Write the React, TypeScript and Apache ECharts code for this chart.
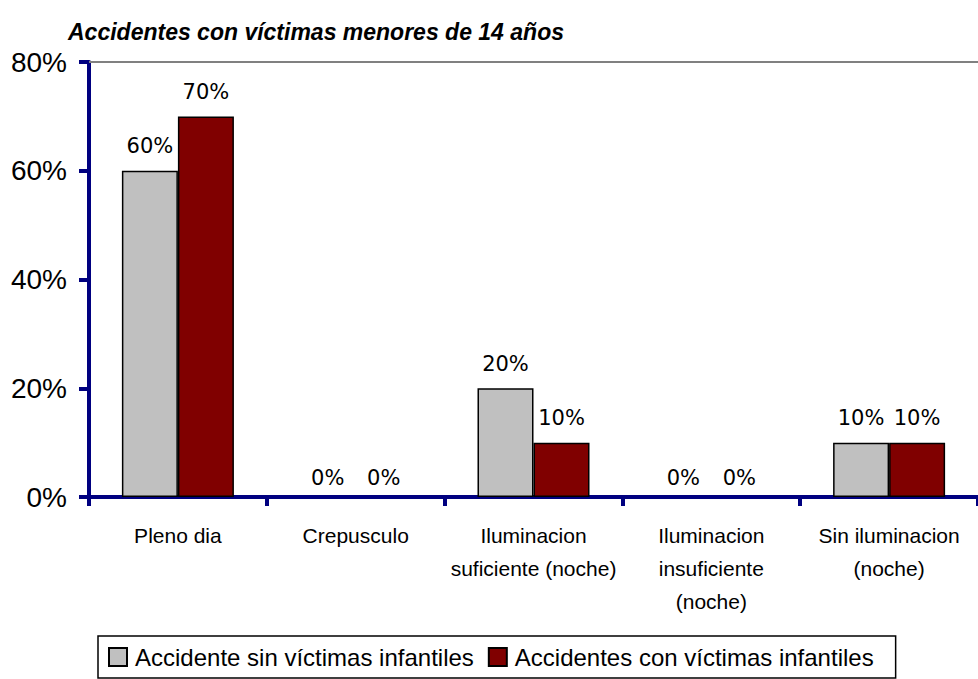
import React, { useEffect, useRef } from "react";
import * as echarts from "echarts";

const categories = [
  "Pleno dia",
  "Crepusculo",
  "Iluminacion\nsuficiente (noche)",
  "Iluminacion\ninsuficiente\n(noche)",
  "Sin iluminacion\n(noche)",
];
const seriesNames = ["Accidente sin víctimas infantiles", "Accidentes con víctimas infantiles"];
const sinVictimas = [60, 0, 20, 0, 10];
const conVictimas = [70, 0, 10, 0, 10];
const yTicks = { min: 0, max: 80, interval: 20 };
const title = "Accidentes con víctimas menores de 14 años";

const SANS = '"Liberation Sans", Arial, sans-serif';
const NAVY = "#000080";

export default function App() {
  const ref = useRef<HTMLDivElement>(null);
  useEffect(() => {
    if (!ref.current) return;
    const chart = echarts.init(ref.current, undefined, { renderer: "svg" });
    const label = {
      show: true,
      position: "top" as const,
      distance: 14,
      formatter: "{c}%",
      fontFamily: '"DejaVu Sans", Verdana, sans-serif',
      fontSize: 21,
      color: "#000",
    };
    const toItems = (vals: number[]) =>
      vals.map((v) =>
        v === 0 ? { value: v, label: { distance: 9 }, itemStyle: { borderWidth: 0 } } : v
      );
    chart.setOption({
      animation: false,
      backgroundColor: "#fff",
      title: {
        text: title,
        left: 63,
        top: 15,
        textStyle: {
          fontFamily: SANS,
          fontSize: 23,
          fontWeight: "bold",
          fontStyle: "italic",
          color: "#000",
        },
      },
      legend: {
        left: 98,
        top: 636,
        orient: "horizontal",
        icon: "rect",
        itemWidth: 18,
        itemHeight: 18,
        itemGap: 14,
        borderColor: "#000",
        borderWidth: 1.5,
        borderRadius: 0,
        padding: [9, 22, 9, 10],
        textStyle: { fontFamily: SANS, fontSize: 24, color: "#000", padding: [0, 0, 0, 3] },
        data: seriesNames,
      },
      grid: { left: 89, top: 62, width: 900, height: 435, containLabel: false },
      xAxis: [
        {
          type: "category",
          data: categories,
          position: "bottom",
          axisLine: { show: true, lineStyle: { color: NAVY, width: 4 } },
          axisTick: { show: true, length: 9, lineStyle: { color: NAVY, width: 4 } },
          axisLabel: {
            interval: 0,
            margin: 22,
            fontFamily: SANS,
            fontSize: 21,
            lineHeight: 33,
            color: "#000",
          },
          splitLine: { show: false },
        },
        {
          type: "category",
          data: categories,
          position: "top",
          axisLine: { show: true, lineStyle: { color: "#808080", width: 2 } },
          axisTick: { show: false },
          axisLabel: { show: false },
        },
      ],
      yAxis: {
        type: "value",
        min: yTicks.min,
        max: yTicks.max,
        interval: yTicks.interval,
        axisLine: { show: true, lineStyle: { color: NAVY, width: 4 } },
        axisTick: { show: true, length: 10, lineStyle: { color: NAVY, width: 4 } },
        axisLabel: {
          formatter: "{value}%",
          fontFamily: SANS,
          fontSize: 28,
          color: "#000",
          margin: 22,
        },
        splitLine: { show: false },
      },
      series: [
        {
          name: seriesNames[0],
          type: "bar",
          data: toItems(sinVictimas),
          barGap: "0%",
          barCategoryGap: "37%",
          itemStyle: { color: "#C0C0C0", borderColor: "#000", borderWidth: 1.5 },
          label,
        },
        {
          name: seriesNames[1],
          type: "bar",
          data: toItems(conVictimas),
          barGap: "0%",
          barCategoryGap: "37%",
          itemStyle: { color: "#800000", borderColor: "#000", borderWidth: 1.5 },
          label,
        },
      ],
    });
    return () => chart.dispose();
  }, []);
  return (
    <div
      ref={ref}
      style={{ position: "absolute", left: 0, top: 0, width: 978, height: 679, overflow: "hidden" }}
    />
  );
}
